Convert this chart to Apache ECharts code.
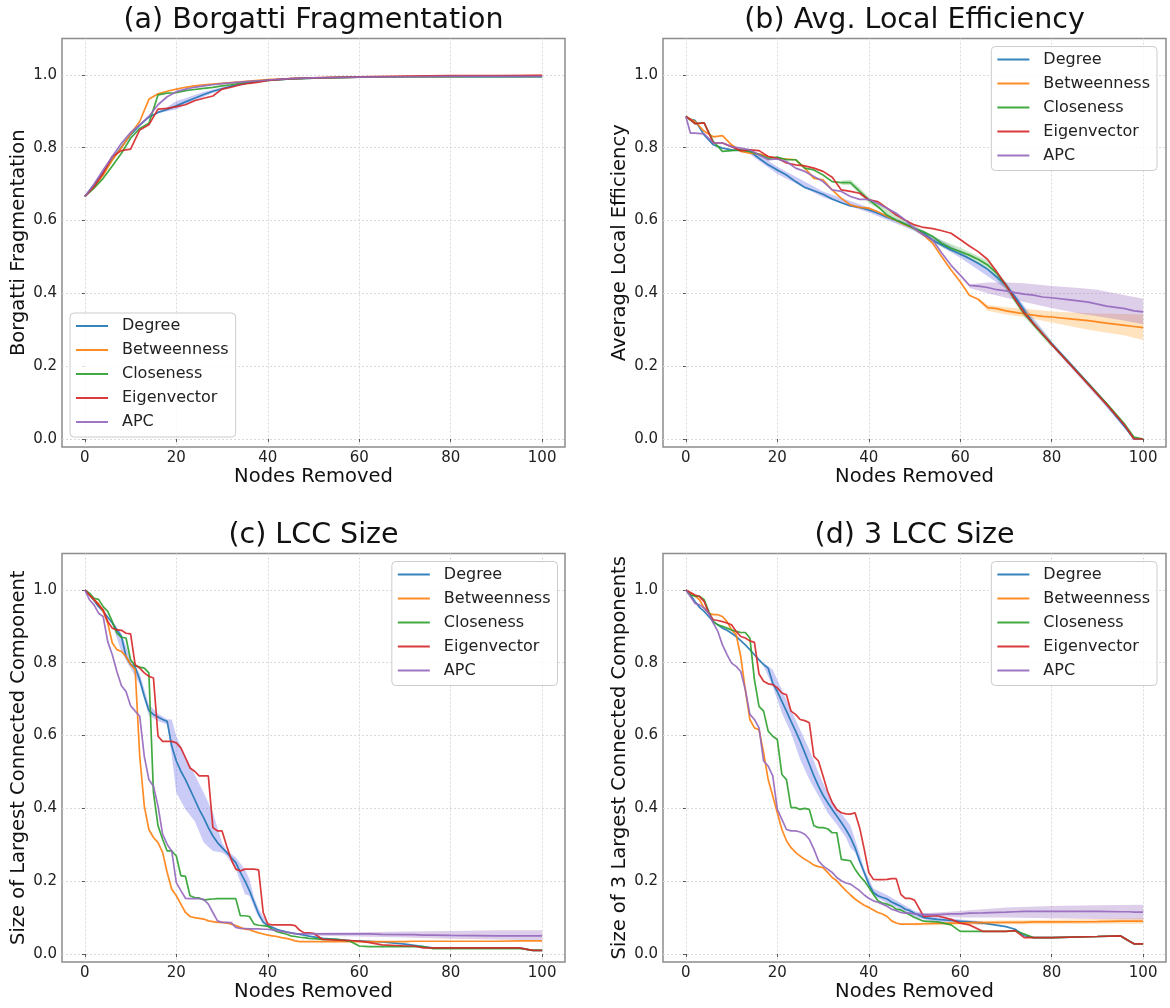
<!DOCTYPE html>
<html>
<head>
<meta charset="utf-8">
<title>Node removal robustness</title>
<script src="https://cdn.jsdelivr.net/npm/echarts@6.0.0/dist/echarts.min.js"></script>
<style>
  html, body { margin: 0; padding: 0; background: #fff; }
  #chart { width: 1170px; height: 1008px; }
</style>
</head>
<body>
<div id="chart"></div>
<script>
  var FONT = 'DejaVu Sans';
  var NAMES = ['Degree', 'Betweenness', 'Closeness', 'Eigenvector', 'APC'];
  var COLORS = ['#1f77b4', '#ff7f0e', '#2ca02c', '#d62728', '#9467bd'];
  var X_TICKS = [0, 20, 40, 60, 80, 100];
  var Y_TICKS = [0, 0.2, 0.4, 0.6, 0.8, 1.0];

  // (a) Borgatti fragmentation
  var xA = [0, 2, 4, 6, 8, 10, 12, 14, 16, 18, 20, 22, 24, 26, 28, 30, 32, 34, 36, 38, 40, 45, 50, 60, 70, 80, 90, 100];
  var aDegree = [0.666, 0.698, 0.732, 0.768, 0.802, 0.835, 0.862, 0.884, 0.897, 0.905, 0.915, 0.926, 0.936, 0.946, 0.955, 0.962, 0.969, 0.974, 0.979, 0.982, 0.985, 0.989, 0.991, 0.994, 0.995, 0.995, 0.995, 0.995];
  var aBetweenness = [0.666, 0.693, 0.725, 0.766, 0.80, 0.838, 0.872, 0.933, 0.948, 0.955, 0.961, 0.966, 0.970, 0.973, 0.975, 0.977, 0.979, 0.981, 0.983, 0.985, 0.987, 0.990, 0.992, 0.994, 0.995, 0.996, 0.997, 0.998];
  var aCloseness = [0.666, 0.689, 0.716, 0.75, 0.785, 0.826, 0.853, 0.867, 0.945, 0.95, 0.951, 0.957, 0.96, 0.963, 0.966, 0.97, 0.973, 0.977, 0.981, 0.983, 0.985, 0.989, 0.991, 0.994, 0.995, 0.995, 0.995, 0.995];
  var aEigenvector = [0.666, 0.693, 0.73, 0.776, 0.792, 0.796, 0.849, 0.863, 0.906, 0.908, 0.913, 0.918, 0.929, 0.936, 0.942, 0.961, 0.966, 0.973, 0.977, 0.98, 0.985, 0.99, 0.992, 0.995, 0.997, 0.998, 0.998, 0.999];
  var aAPC = [0.666, 0.70, 0.739, 0.776, 0.812, 0.842, 0.863, 0.886, 0.918, 0.94, 0.954, 0.961, 0.966, 0.97, 0.973, 0.976, 0.978, 0.98, 0.982, 0.984, 0.986, 0.99, 0.992, 0.994, 0.995, 0.996, 0.996, 0.996];
  var aDegreeBandX = [16, 18, 20, 22, 24, 26, 28, 30, 32];
  var aDegreeBandLo = [0.895, 0.9, 0.905, 0.918, 0.928, 0.94, 0.95, 0.958, 0.966];
  var aDegreeBandHi = [0.9, 0.912, 0.928, 0.936, 0.945, 0.953, 0.96, 0.966, 0.972];

  // (b) average local efficiency
  var xB = [0, 1, 2, 4, 6, 8, 10, 12, 14, 16, 18, 20, 22, 24, 26, 28, 30, 32, 34, 36, 38, 40, 42, 44, 46, 48, 50, 52, 54, 56, 58, 60, 62, 64, 66, 68, 70, 72, 74, 76, 78, 80, 84, 88, 92, 96, 98, 100];
  var bDegree = [0.886, 0.878, 0.875, 0.835, 0.808, 0.799, 0.794, 0.792, 0.79, 0.771, 0.753, 0.739, 0.725, 0.707, 0.691, 0.682, 0.672, 0.659, 0.649, 0.64, 0.636, 0.629, 0.62, 0.609, 0.6, 0.59, 0.578, 0.565, 0.546, 0.533, 0.519, 0.508, 0.496, 0.482, 0.466, 0.445, 0.422, 0.39, 0.354, 0.317, 0.288, 0.262, 0.208, 0.152, 0.095, 0.033, 0.0, 0.0];
  var bBetweenness = [0.886, 0.878, 0.872, 0.845, 0.83, 0.833, 0.808, 0.79, 0.785, 0.783, 0.776, 0.771, 0.769, 0.767, 0.744, 0.716, 0.712, 0.684, 0.661, 0.643, 0.636, 0.634, 0.624, 0.612, 0.6, 0.588, 0.578, 0.56, 0.537, 0.5, 0.464, 0.432, 0.395, 0.383, 0.361, 0.358, 0.352, 0.348, 0.344, 0.34, 0.337, 0.335, 0.33, 0.325, 0.318, 0.312, 0.309, 0.306];
  var bCloseness = [0.886, 0.876, 0.866, 0.868, 0.817, 0.79, 0.792, 0.794, 0.79, 0.781, 0.771, 0.774, 0.767, 0.767, 0.744, 0.739, 0.725, 0.707, 0.704, 0.704, 0.68, 0.657, 0.638, 0.615, 0.601, 0.59, 0.578, 0.569, 0.556, 0.537, 0.524, 0.515, 0.505, 0.493, 0.478, 0.455, 0.422, 0.381, 0.344, 0.315, 0.287, 0.26, 0.206, 0.152, 0.098, 0.04, 0.005, 0.0];
  var bEigenvector = [0.886, 0.877, 0.866, 0.868, 0.813, 0.813, 0.803, 0.792, 0.794, 0.792, 0.776, 0.771, 0.758, 0.753, 0.75, 0.744, 0.735, 0.719, 0.684, 0.68, 0.675, 0.657, 0.652, 0.634, 0.615, 0.601, 0.588, 0.581, 0.578, 0.572, 0.565, 0.548, 0.53, 0.514, 0.493, 0.459, 0.422, 0.383, 0.346, 0.317, 0.289, 0.26, 0.205, 0.15, 0.095, 0.037, 0.0, 0.0];
  var bAPC = [0.886, 0.84, 0.84, 0.838, 0.813, 0.813, 0.803, 0.799, 0.794, 0.781, 0.767, 0.769, 0.762, 0.744, 0.735, 0.721, 0.707, 0.684, 0.68, 0.666, 0.658, 0.658, 0.647, 0.634, 0.62, 0.601, 0.578, 0.56, 0.546, 0.51, 0.477, 0.45, 0.422, 0.42, 0.416, 0.41, 0.407, 0.402, 0.398, 0.395, 0.39, 0.388, 0.382, 0.376, 0.365, 0.358, 0.352, 0.349];
  var bDegreeBandX = [14, 20, 30, 40, 50, 60, 70, 80, 90, 98];
  var bDegreeBandLo = [0.782, 0.728, 0.664, 0.622, 0.571, 0.498, 0.413, 0.254, 0.115, 0.0];
  var bDegreeBandHi = [0.797, 0.748, 0.68, 0.636, 0.585, 0.516, 0.43, 0.268, 0.13, 0.006];
  var bClosenessBandX = [34, 36, 38, 40, 50, 56, 60, 66, 70, 74, 80];
  var bClosenessBandLo = [0.698, 0.697, 0.672, 0.648, 0.572, 0.527, 0.505, 0.468, 0.41, 0.335, 0.252];
  var bClosenessBandHi = [0.71, 0.712, 0.69, 0.665, 0.585, 0.546, 0.525, 0.49, 0.432, 0.354, 0.27];
  var bBetweennessBandX = [64, 66, 70, 74, 80, 86, 90, 96, 100];
  var bBetweennessBandLo = [0.378, 0.352, 0.342, 0.335, 0.32, 0.305, 0.296, 0.284, 0.272];
  var bBetweennessBandHi = [0.388, 0.368, 0.362, 0.358, 0.35, 0.347, 0.345, 0.343, 0.342];
  var bAPCBandX = [62, 66, 70, 74, 80, 86, 90, 96, 100];
  var bAPCBandLo = [0.415, 0.4, 0.388, 0.376, 0.36, 0.345, 0.337, 0.325, 0.315];
  var bAPCBandHi = [0.425, 0.43, 0.43, 0.428, 0.42, 0.415, 0.41, 0.395, 0.385];

  // (c) and (d) share the node grid
  var xC = [0, 1, 2, 3, 4, 5, 6, 7, 8, 9, 10, 11, 12, 13, 14, 15, 16, 17, 18, 19, 20, 21, 22, 23, 24, 25, 26, 27, 28, 29, 30, 31, 32, 33, 34, 35, 36, 37, 38, 39, 40, 41, 42, 43, 44, 45, 46, 47, 48, 49, 50, 52, 55, 58, 60, 62, 65, 70, 72, 74, 76, 80, 90, 95, 97, 98, 100];

  // (c) LCC size
  var cDegree = [1.0, 0.986, 0.971, 0.954, 0.941, 0.925, 0.909, 0.89, 0.872, 0.817,
    0.795, 0.788, 0.753, 0.708, 0.669, 0.658, 0.651, 0.644, 0.639, 0.571,
    0.53, 0.502, 0.479, 0.452, 0.425, 0.397, 0.374, 0.347, 0.324, 0.306,
    0.292, 0.279, 0.265, 0.251, 0.224, 0.201, 0.174, 0.142, 0.11, 0.087,
    0.078, 0.073, 0.068, 0.064, 0.061, 0.058, 0.056, 0.054, 0.052, 0.049, 0.047,
    0.043, 0.04, 0.037, 0.036, 0.035, 0.033, 0.027, 0.024, 0.02, 0.017, 0.017, 0.017, 0.017, 0.012, 0.01, 0.01];
  var cBetweenness = [1.0, 0.986, 0.973, 0.962, 0.941, 0.909, 0.854, 0.836, 0.831, 0.817,
    0.795, 0.781, 0.543, 0.406, 0.342, 0.32, 0.306, 0.279, 0.224, 0.178,
    0.16, 0.137, 0.114, 0.103, 0.1, 0.098, 0.096, 0.091, 0.089, 0.087,
    0.087, 0.085, 0.082, 0.078, 0.073, 0.068, 0.067, 0.062, 0.058, 0.055,
    0.052, 0.05, 0.048, 0.045, 0.043, 0.04, 0.036, 0.034, 0.034, 0.034, 0.034,
    0.034, 0.034, 0.034, 0.034, 0.034, 0.034, 0.034, 0.035, 0.035, 0.035, 0.035, 0.035, 0.036, 0.036, 0.036, 0.036];
  var cCloseness = [1.0, 0.991, 0.977, 0.974, 0.954, 0.941, 0.913, 0.881, 0.87, 0.868,
    0.808, 0.792, 0.788, 0.785, 0.772, 0.443, 0.352, 0.315, 0.283, 0.283,
    0.269, 0.215, 0.213, 0.16, 0.155, 0.154, 0.148, 0.15, 0.151, 0.152,
    0.152, 0.152, 0.152, 0.152, 0.105, 0.105, 0.103, 0.082, 0.079, 0.078,
    0.076, 0.068, 0.061, 0.058, 0.055, 0.05, 0.048, 0.046, 0.045, 0.043, 0.042,
    0.04, 0.04, 0.035, 0.022, 0.02, 0.02, 0.02, 0.02, 0.02, 0.015, 0.015, 0.015, 0.015, 0.012, 0.01, 0.01];
  var cEigenvector = [1.0, 0.986, 0.974, 0.959, 0.945, 0.913, 0.895, 0.89, 0.889, 0.881,
    0.879, 0.795, 0.785, 0.772, 0.763, 0.758, 0.598, 0.584, 0.584, 0.584,
    0.58, 0.566, 0.539, 0.511, 0.502, 0.489, 0.489, 0.489, 0.347, 0.338,
    0.338, 0.297, 0.26, 0.233, 0.228, 0.233, 0.233, 0.233, 0.231, 0.114,
    0.082, 0.08, 0.08, 0.08, 0.08, 0.08, 0.078, 0.065, 0.058, 0.058, 0.057,
    0.04, 0.038, 0.037, 0.035, 0.032, 0.025, 0.022, 0.022, 0.017, 0.017, 0.017, 0.017, 0.017, 0.012, 0.01, 0.01];
  var cAPC = [1.0, 0.973, 0.959, 0.936, 0.927, 0.858, 0.822, 0.776, 0.737, 0.721,
    0.682, 0.667, 0.653, 0.543, 0.479, 0.461, 0.406, 0.329, 0.301, 0.283,
    0.196, 0.174, 0.153, 0.152, 0.152, 0.152, 0.15, 0.137, 0.114, 0.091,
    0.087, 0.087, 0.086, 0.073, 0.07, 0.07, 0.069, 0.069, 0.069, 0.068,
    0.068, 0.066, 0.064, 0.062, 0.06, 0.058, 0.056, 0.055, 0.055, 0.055, 0.055,
    0.055, 0.055, 0.055, 0.055, 0.055, 0.054, 0.053, 0.053, 0.052, 0.052, 0.051, 0.05, 0.05, 0.05, 0.05, 0.05];
  var cDegreeBandX = [6, 8, 10, 12, 14, 16, 18, 19, 20, 22, 24, 26, 28, 30, 31, 33, 35, 36, 37, 38, 40];
  var cDegreeBandLo = [0.905, 0.83, 0.785, 0.74, 0.655, 0.64, 0.63, 0.545, 0.443, 0.397, 0.365, 0.306, 0.283, 0.279, 0.27, 0.233, 0.164, 0.16, 0.128, 0.1, 0.075];
  var cDegreeBandHi = [0.915, 0.88, 0.81, 0.77, 0.685, 0.66, 0.645, 0.644, 0.598, 0.543, 0.493, 0.443, 0.388, 0.306, 0.285, 0.265, 0.233, 0.205, 0.155, 0.125, 0.082];
  var cAPCBandX = [50, 60, 70, 80, 90, 100];
  var cAPCBandLo = [0.05, 0.048, 0.045, 0.042, 0.04, 0.038];
  var cAPCBandHi = [0.058, 0.06, 0.062, 0.063, 0.065, 0.065];

  // (d) 3 LCC size
  var dDegree = [1.0, 0.986, 0.968, 0.952, 0.941, 0.927, 0.913, 0.904, 0.895, 0.889,
    0.881, 0.872, 0.861, 0.849, 0.836, 0.822, 0.808, 0.795, 0.785, 0.744,
    0.721, 0.694, 0.667, 0.639, 0.612, 0.584, 0.553, 0.521, 0.489, 0.461,
    0.436, 0.416, 0.397, 0.379, 0.361, 0.342, 0.32, 0.292, 0.256, 0.224,
    0.192, 0.169, 0.16, 0.155, 0.151, 0.143, 0.137, 0.131, 0.123, 0.119, 0.112,
    0.1, 0.095, 0.092, 0.09, 0.088, 0.085, 0.075, 0.068, 0.05, 0.045, 0.045, 0.048, 0.05, 0.035, 0.028, 0.028];
  var dBetweenness = [1.0, 0.991, 0.983, 0.973, 0.95, 0.936, 0.932, 0.932, 0.927, 0.913,
    0.89, 0.877, 0.817, 0.726, 0.644, 0.621, 0.616, 0.553, 0.479, 0.434,
    0.388, 0.342, 0.311, 0.292, 0.279, 0.269, 0.26, 0.253, 0.244, 0.24,
    0.237, 0.224, 0.21, 0.201, 0.187, 0.174, 0.162, 0.151, 0.142, 0.134,
    0.128, 0.121, 0.114, 0.11, 0.103, 0.091, 0.085, 0.082, 0.082, 0.082, 0.082,
    0.083, 0.084, 0.085, 0.085, 0.086, 0.086, 0.087, 0.087, 0.087, 0.088, 0.088, 0.089, 0.09, 0.09, 0.09, 0.09];
  var dCloseness = [1.0, 0.986, 0.983, 0.982, 0.973, 0.941, 0.913, 0.904, 0.9, 0.895,
    0.89, 0.886, 0.883, 0.883, 0.868, 0.753, 0.68, 0.667, 0.612, 0.598,
    0.589, 0.493, 0.479, 0.402, 0.402, 0.397, 0.4, 0.397, 0.352, 0.347,
    0.347, 0.344, 0.333, 0.333, 0.26, 0.258, 0.256, 0.233, 0.215, 0.201,
    0.183, 0.164, 0.146, 0.14, 0.137, 0.132, 0.123, 0.121, 0.114, 0.107, 0.1,
    0.09, 0.088, 0.08, 0.062, 0.062, 0.062, 0.062, 0.064, 0.055, 0.045, 0.045, 0.048, 0.05, 0.035, 0.028, 0.028];
  var dEigenvector = [1.0, 0.993, 0.986, 0.982, 0.968, 0.936, 0.918, 0.916, 0.913, 0.909,
    0.904, 0.886, 0.872, 0.868, 0.86, 0.856, 0.769, 0.749, 0.742, 0.74,
    0.731, 0.717, 0.712, 0.667, 0.658, 0.644, 0.641, 0.635, 0.543, 0.53,
    0.489, 0.447, 0.416, 0.397, 0.388, 0.385, 0.384, 0.388, 0.347, 0.288,
    0.224, 0.205, 0.204, 0.204, 0.205, 0.207, 0.207, 0.164, 0.153, 0.153, 0.148,
    0.103, 0.105, 0.095, 0.085, 0.08, 0.062, 0.062, 0.064, 0.045, 0.045, 0.045, 0.048, 0.05, 0.035, 0.028, 0.028];
  var dAPC = [1.0, 0.982, 0.963, 0.959, 0.95, 0.936, 0.909, 0.886, 0.849, 0.822,
    0.799, 0.79, 0.776, 0.726, 0.658, 0.644, 0.621, 0.53, 0.516, 0.489,
    0.397, 0.37, 0.342, 0.338, 0.338, 0.335, 0.329, 0.315, 0.288, 0.256,
    0.242, 0.233, 0.224, 0.21, 0.201, 0.195, 0.192, 0.183, 0.174, 0.162,
    0.153, 0.146, 0.142, 0.137, 0.131, 0.123, 0.119, 0.114, 0.112, 0.112, 0.11,
    0.108, 0.108, 0.11, 0.11, 0.112, 0.113, 0.115, 0.116, 0.117, 0.117, 0.117, 0.117, 0.116, 0.116, 0.115, 0.115];
  var dDegreeBandX = [17, 19, 21, 23, 25, 27, 29, 31, 33, 35, 36, 37, 39, 41, 44, 47, 50, 55, 60, 65];
  var dDegreeBandLo = [0.79, 0.735, 0.662, 0.607, 0.534, 0.479, 0.434, 0.388, 0.356, 0.32, 0.292, 0.279, 0.215, 0.16, 0.14, 0.122, 0.1, 0.088, 0.085, 0.08];
  var dDegreeBandHi = [0.8, 0.781, 0.726, 0.671, 0.616, 0.562, 0.498, 0.443, 0.402, 0.37, 0.352, 0.315, 0.235, 0.18, 0.162, 0.14, 0.118, 0.102, 0.095, 0.09];
  var dBetweennessBandX = [50, 60, 70, 80, 90, 100];
  var dBetweennessBandLo = [0.078, 0.08, 0.082, 0.082, 0.083, 0.083];
  var dBetweennessBandHi = [0.085, 0.09, 0.092, 0.094, 0.096, 0.098];
  var dAPCBandX = [52, 60, 70, 80, 90, 100];
  var dAPCBandLo = [0.105, 0.1, 0.1, 0.098, 0.096, 0.095];
  var dAPCBandHi = [0.112, 0.118, 0.128, 0.132, 0.134, 0.135];

  var BAND_BLUE = 'rgba(70, 70, 230, 0.28)';
  var BAND_ORANGE = 'rgba(255, 160, 40, 0.3)';
  var BAND_GREEN = 'rgba(44, 160, 44, 0.25)';
  var BAND_PURPLE = 'rgba(148, 103, 189, 0.32)';

  var panels = [
    {
      title: '(a) Borgatti Fragmentation', yName: 'Borgatti Fragmentation',
      left: 62, top: 38.5, legend: { left: 70, top: 313 },
      x: xA, ys: [aDegree, aBetweenness, aCloseness, aEigenvector, aAPC],
      bands: [{ x: aDegreeBandX, lo: aDegreeBandLo, hi: aDegreeBandHi, color: BAND_BLUE }]
    },
    {
      title: '(b) Avg. Local Efficiency', yName: 'Average Local Efficiency',
      left: 663, top: 38.5, legend: { right: 13, top: 46.5 },
      x: xB, ys: [bDegree, bBetweenness, bCloseness, bEigenvector, bAPC],
      bands: [
        { x: bDegreeBandX, lo: bDegreeBandLo, hi: bDegreeBandHi, color: BAND_BLUE },
        { x: bBetweennessBandX, lo: bBetweennessBandLo, hi: bBetweennessBandHi, color: BAND_ORANGE },
        { x: bClosenessBandX, lo: bClosenessBandLo, hi: bClosenessBandHi, color: BAND_GREEN },
        { x: bAPCBandX, lo: bAPCBandLo, hi: bAPCBandHi, color: BAND_PURPLE }
      ]
    },
    {
      title: '(c) LCC Size', yName: 'Size of Largest Connected Component',
      left: 62, top: 553.5, legend: { right: 612.5, top: 561.5 },
      x: xC, ys: [cDegree, cBetweenness, cCloseness, cEigenvector, cAPC],
      bands: [
        { x: cDegreeBandX, lo: cDegreeBandLo, hi: cDegreeBandHi, color: BAND_BLUE },
        { x: cAPCBandX, lo: cAPCBandLo, hi: cAPCBandHi, color: BAND_PURPLE }
      ]
    },
    {
      title: '(d) 3 LCC Size', yName: 'Size of 3 Largest Connected Components',
      left: 663, top: 553.5, legend: { right: 13, top: 561.5 },
      x: xC, ys: [dDegree, dBetweenness, dCloseness, dEigenvector, dAPC],
      bands: [
        { x: dDegreeBandX, lo: dDegreeBandLo, hi: dDegreeBandHi, color: BAND_BLUE },
        { x: dBetweennessBandX, lo: dBetweennessBandLo, hi: dBetweennessBandHi, color: BAND_ORANGE },
        { x: dAPCBandX, lo: dAPCBandLo, hi: dAPCBandHi, color: BAND_PURPLE }
      ]
    }
  ];

  var GRID_W = 503, GRID_H = 408.5;

  // shaded spread between lo and hi, projected through the panel's axes
  function bandSeries(b, gi) {
    return {
      type: 'custom', xAxisIndex: gi, yAxisIndex: gi, silent: true, z: 2,
      data: [[b.x[0], b.lo[0]]],
      renderItem: function (params, api) {
        var pts = [], i;
        for (i = 0; i < b.x.length; i++) pts.push(api.coord([b.x[i], b.hi[i]]));
        for (i = b.x.length - 1; i >= 0; i--) pts.push(api.coord([b.x[i], b.lo[i]]));
        return { type: 'polygon', shape: { points: pts }, style: { fill: b.color } };
      }
    };
  }

  function lineSeries(p, k, gi) {
    return {
      name: NAMES[k], type: 'line', xAxisIndex: gi, yAxisIndex: gi, z: 3,
      data: p.x.map(function (v, i) { return [v, p.ys[k][i]]; }),
      symbol: 'none', showSymbol: false,
      lineStyle: { color: COLORS[k], width: 1.7, opacity: 0.9 },
      itemStyle: { color: COLORS[k] },
      emphasis: { disabled: true }
    };
  }

  var grids = [], xAxes = [], yAxes = [], titles = [], legends = [], series = [];

  panels.forEach(function (p, gi) {
    grids.push({
      left: p.left, top: p.top, width: GRID_W, height: GRID_H,
      show: true, borderColor: '#8c8c8c', borderWidth: 1.5, backgroundColor: 'transparent'
    });
    xAxes.push({
      type: 'value', gridIndex: gi, min: -5, max: 105, splitNumber: 5,
      name: 'Nodes Removed', nameLocation: 'middle', nameGap: 20,
      nameTextStyle: { fontFamily: FONT, fontSize: 19.5, color: '#111' },
      axisLine: { show: false },
      axisTick: { show: true, inside: false, length: 3, customValues: X_TICKS, lineStyle: { color: '#555' } },
      axisLabel: { customValues: X_TICKS, fontFamily: FONT, fontSize: 15, color: '#222', margin: 4 },
      splitLine: { show: true, lineStyle: { color: '#dadada', width: 1, type: [2, 2] } }
    });
    yAxes.push({
      type: 'value', gridIndex: gi, min: -0.022, max: 1.1, splitNumber: 5,
      name: p.yName, nameLocation: 'middle', nameGap: 33, nameRotate: 90,
      nameTextStyle: { fontFamily: FONT, fontSize: 19.5, color: '#111' },
      axisLine: { show: false },
      axisTick: { show: true, inside: false, length: 3, customValues: Y_TICKS, lineStyle: { color: '#555' } },
      axisLabel: {
        customValues: Y_TICKS, fontFamily: FONT, fontSize: 15, color: '#222', margin: 5,
        formatter: function (v) { return v.toFixed(1); }
      },
      splitLine: { show: true, lineStyle: { color: '#dadada', width: 1, type: [2, 2] } }
    });
    titles.push({
      text: p.title, left: p.left + GRID_W / 2, top: p.top - 32.5, textAlign: 'center', padding: 0,
      textStyle: { fontFamily: FONT, fontSize: 28.5, fontWeight: 'normal', color: '#111' }
    });
    var lg = {
      data: NAMES, orient: 'vertical', top: p.legend.top, selectedMode: false,
      icon: 'rect', itemWidth: 32, itemHeight: 2, itemGap: 8,
      itemStyle: { opacity: 0.9 },
      padding: [5, 7, 7, 6], borderColor: '#cccccc', borderWidth: 1, borderRadius: 4,
      backgroundColor: 'rgba(255,255,255,0.8)',
      textStyle: { fontFamily: FONT, fontSize: 16, color: '#222', padding: [0, 0, 0, 9] }
    };
    if (p.legend.left != null) lg.left = p.legend.left; else lg.right = p.legend.right;
    legends.push(lg);
    p.bands.forEach(function (b) { series.push(bandSeries(b, gi)); });
    for (var k = 0; k < NAMES.length; k++) series.push(lineSeries(p, k, gi));
  });

  var chart = echarts.init(document.getElementById('chart'), null, { renderer: 'canvas' });
  chart.setOption({
    animation: false,
    backgroundColor: '#ffffff',
    color: COLORS,
    title: titles,
    legend: legends,
    grid: grids,
    xAxis: xAxes,
    yAxis: yAxes,
    series: series
  });
</script>
</body>
</html>
